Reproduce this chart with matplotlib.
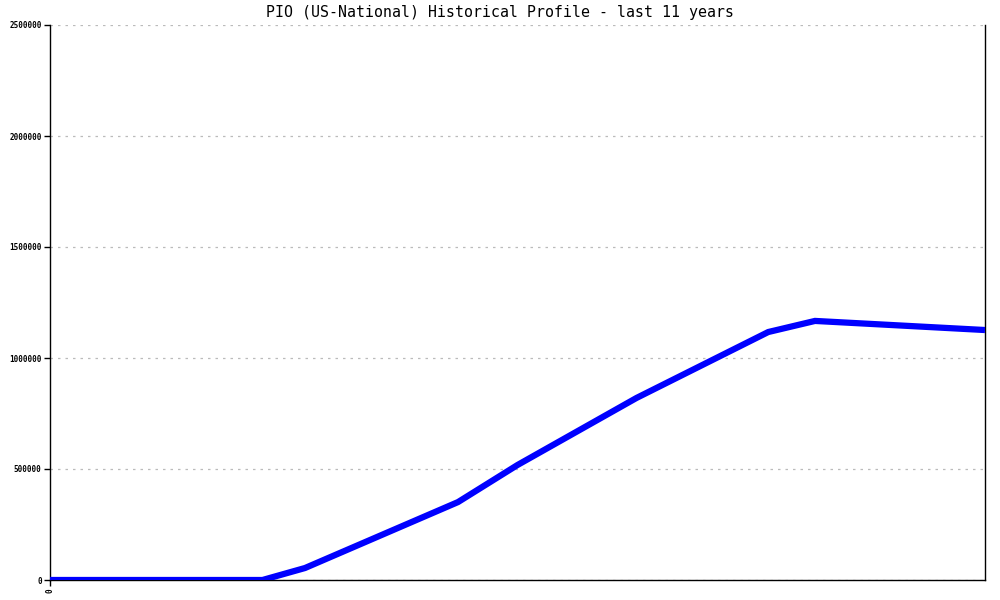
import matplotlib
matplotlib.use("Agg")
import matplotlib.pyplot as plt

# years since start of the 11-year window, and the profile value at each point
years = [0.0, 2.5, 3.0, 4.8, 5.5, 6.9, 8.45, 9.0, 11.0]
values = [0, 0, 54000, 351000, 518000, 820000, 1117000, 1167000, 1126000]

title = "PIO (US-National) Historical Profile - last 11 years"
y_ticks = [0, 500000, 1000000, 1500000, 2000000, 2500000]

mono = "DejaVu Sans Mono"

fig = plt.figure(figsize=(10, 6), dpi=100)
ax = fig.add_axes([0.05, 20 / 600, 0.935, 555 / 600])

ax.plot(years, values, color="#0000ff", linewidth=4.5, solid_capstyle="butt",
        solid_joinstyle="miter", zorder=3)

ax.set_xlim(0, 11)
ax.set_ylim(0, 2500000)
ax.set_yticks(y_ticks)
ax.set_yticklabels([str(v) for v in y_ticks], fontsize=5.5, family=mono,
                   fontweight="bold")
ax.set_xticks([0])
ax.set_xticklabels(["0"], fontsize=5.5, family=mono, rotation=90,
                   fontweight="bold")
ax.tick_params(axis="both", length=4, width=1, color="black", pad=2)

ax.grid(axis="y", color="#bbbbbb", linestyle=(0, (2, 4)), linewidth=0.9)
ax.spines["top"].set_visible(False)
for side in ["left", "right", "bottom"]:
    ax.spines[side].set_linewidth(1)
    ax.spines[side].set_color("black")

fig.text(0.5, 1 - 13 / 600, title, ha="center", va="center",
         fontsize=10.7, family=mono)

fig.savefig("out.png", dpi=100)
